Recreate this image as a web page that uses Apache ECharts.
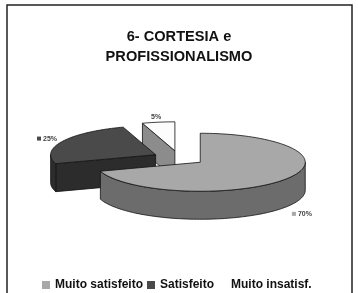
<!DOCTYPE html>
<html><head><meta charset="utf-8">
<script src="https://cdn.jsdelivr.net/npm/echarts@6/dist/echarts.min.js"></script>
<style>html,body{margin:0;padding:0;background:#fff}#c{width:358px;height:293px}</style>
</head><body><div id="c"></div>
<script>
const categories = ['Muito satisfeito', 'Satisfeito', 'Muito insatisf.'];
const values = [70, 25, 5];
const valueLabels = ['70%', '25%', '5%'];

const topColors = ['#a8a8a8', '#4a4a4a', '#fcfcfc'];
const sideColors = ['#6c6c6c', '#2c2c2c', '#8c8c8c'];
const keyColors = ['#a8a8a8', '#4a4a4a', '#ffffff'];
const CX = 179, CY = 158, RX = 105, RY = 29, H = 28, EXP = 0.25;
const FONT = '"Liberation Sans", Arial, sans-serif';

const total = values.reduce((a, b) => a + b, 0);
function angles(i) {
  let s = 0;
  for (let k = 0; k < i; k++) s += values[k] / total * 2 * Math.PI;
  return [s, s + values[i] / total * 2 * Math.PI];
}
function renderSlice(i) {
  return function (params, api) {
    const [a0, a1] = angles(i);
    const mid = (a0 + a1) / 2;
    const cx = CX + EXP * RX * Math.sin(mid), cy = CY - EXP * RY * Math.cos(mid);
    const P = (t, dy) => [cx + RX * Math.sin(t), cy - RY * Math.cos(t) + (dy || 0)];
    const arc = (s, e, dy) => { const n = Math.max(2, Math.ceil((e - s) / 0.03)); const pts = []; for (let k = 0; k <= n; k++) pts.push(P(s + (e - s) * k / n, dy)); return pts; };
    const stroke = { stroke: '#111', lineWidth: 0.8, lineJoin: 'round' };
    const children = [];
    if (Math.sin(a0) < -1e-6) {
      const p = P(a0);
      children.push({ type: 'polygon', shape: { points: [[cx, cy], p, [p[0], p[1] + H], [cx, cy + H]] }, style: Object.assign({ fill: sideColors[i] }, stroke) });
    }
    if (Math.sin(a1) > 1e-6) {
      const p = P(a1);
      children.push({ type: 'polygon', shape: { points: [[cx, cy], p, [p[0], p[1] + H], [cx, cy + H]] }, style: Object.assign({ fill: sideColors[i] }, stroke) });
    }
    const s = Math.max(a0, Math.PI / 2), e = Math.min(a1, 3 * Math.PI / 2);
    if (e > s) {
      const pts = arc(s, e, 0).concat(arc(s, e, H).reverse());
      children.push({ type: 'polygon', shape: { points: pts }, style: Object.assign({ fill: sideColors[i] }, stroke) });
    }
    children.push({ type: 'polygon', shape: { points: [[cx, cy]].concat(arc(a0, a1, 0)) }, style: Object.assign({ fill: topColors[i] }, stroke) });
    let lx = cx + 1.15 * RX * Math.sin(mid);
    let ly = cy - 1.15 * RY * Math.cos(mid);
    if (Math.cos(mid) < 0) { ly += H + 4; lx += 7; }
    else { lx += 2; ly -= 1; }
    children.push({ type: 'rect', shape: { x: lx - 13, y: ly - 2, width: 4, height: 4 }, style: { fill: keyColors[i] } });
    children.push({ type: 'text', style: { x: lx - 7, y: ly, text: valueLabels[i], fill: '#444', font: 'bold 7px ' + FONT, textAlign: 'left', textVerticalAlign: 'middle' } });
    return { type: 'group', children: children };
  };
}
const zOrder = [4, 3, 2];
const chart = echarts.init(document.getElementById('c'));
chart.setOption({
  animation: false,
  title: {
    text: '6- CORTESIA e\nPROFISSIONALISMO', left: 'center', top: 22,
    textStyle: { fontFamily: FONT, fontWeight: 'bold', fontSize: 14.6, lineHeight: 20, color: '#111' }
  },
  legend: {
    data: categories, top: 274, left: 37, icon: 'rect', itemWidth: 8, itemHeight: 8, itemGap: 4,
    textStyle: { fontFamily: FONT, fontWeight: 'bold', fontSize: 12, color: '#111' }
  },
  graphic: [{ type: 'rect', shape: { x: 7, y: 5, width: 345, height: 300 }, style: { fill: 'none', stroke: '#222', lineWidth: 1.5 }, z: -1 }],
  series: categories.map((name, i) => ({
    type: 'custom', name: name, coordinateSystem: 'none', z: zOrder[i],
    itemStyle: { color: keyColors[i] },
    renderItem: renderSlice(i), data: [values[i]]
  }))
});
</script></body></html>
